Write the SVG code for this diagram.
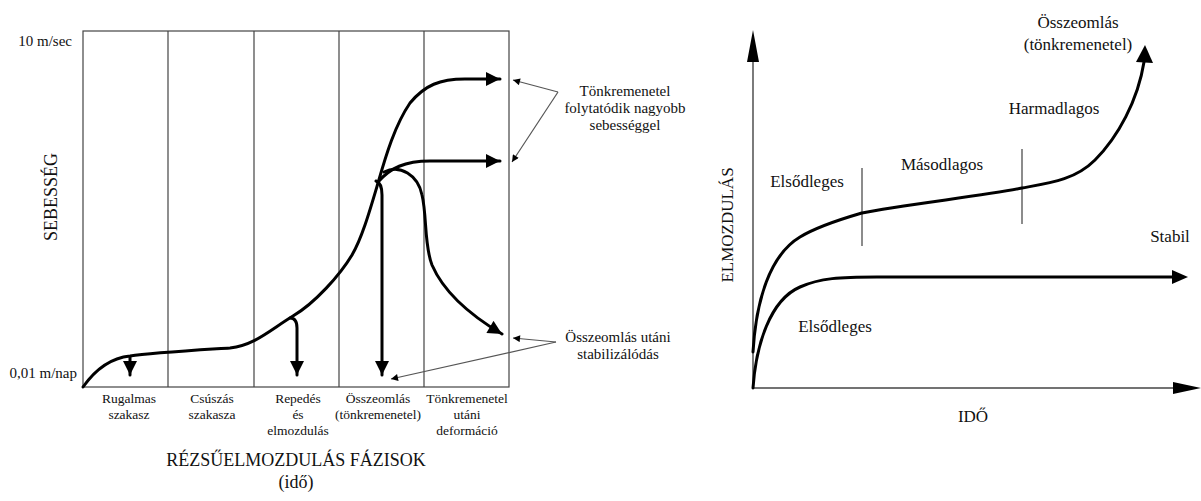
<svg xmlns="http://www.w3.org/2000/svg" width="1201" height="501" viewBox="0 0 1201 501" font-family="'Liberation Serif', 'Times New Roman', serif">
<style>
text{font-family:"Liberation Serif","Times New Roman",serif;fill:#111}
.s13{font-size:13.5px}
.s15{font-size:15px}
.s17{font-size:17px}
.s18{font-size:18px}
.grid{stroke:#444;stroke-width:1.2;fill:none}
.curve{stroke:#000;stroke-width:3;fill:none;stroke-linecap:round}
.thin{stroke:#555;stroke-width:1.2;fill:none}
.axis{stroke:#444;stroke-width:1.4;fill:none}
.tick{stroke:#666;stroke-width:1.5;fill:none}
.head{fill:#000;stroke:none}
</style>
<defs>
<marker id="sm" viewBox="0 0 10 10" refX="10" refY="5" markerWidth="9" markerHeight="7" markerUnits="userSpaceOnUse" orient="auto">
<path d="M0,0 L10,5 L0,10 z" fill="#000"/>
</marker>
<marker id="big" viewBox="0 0 10 10" refX="10" refY="5" markerWidth="16" markerHeight="14" markerUnits="userSpaceOnUse" orient="auto">
<path d="M0,0 L10,5 L0,10 z" fill="#000"/>
</marker>
</defs>

<g id="left-frame">
<rect class="grid" x="83" y="31" width="426" height="356"/>
<line class="grid" x1="168" y1="31" x2="168" y2="387"/>
<line class="grid" x1="254" y1="31" x2="254" y2="387"/>
<line class="grid" x1="339" y1="31" x2="339" y2="387"/>
<line class="grid" x1="424" y1="31" x2="424" y2="387"/>
</g>

<g id="left-axis-labels" font-family="'Liberation Serif', serif">
<text class="s15" x="72" y="46" text-anchor="end">10 m/sec</text>
<text class="s15" x="77" y="378" text-anchor="end">0,01 m/nap</text>
<text class="s18" transform="translate(57,197) rotate(-90)" text-anchor="middle">SEBESSÉG</text>
<text class="s18" x="296" y="466" text-anchor="middle">RÉZSŰELMOZDULÁS FÁZISOK</text>
<text class="s18" x="296" y="488" text-anchor="middle">(idő)</text>
</g>

<g id="phase-labels" font-family="'Liberation Serif', serif">
<text class="s13" x="129" y="403" text-anchor="middle">Rugalmas</text>
<text class="s13" x="129" y="419" text-anchor="middle">szakasz</text>
<text class="s13" x="212" y="403" text-anchor="middle">Csúszás</text>
<text class="s13" x="212" y="419" text-anchor="middle">szakasza</text>
<text class="s13" x="298" y="403" text-anchor="middle">Repedés</text>
<text class="s13" x="298" y="419" text-anchor="middle">és</text>
<text class="s13" x="298" y="435" text-anchor="middle">elmozdulás</text>
<text class="s13" x="378" y="403" text-anchor="middle">Összeomlás</text>
<text class="s13" x="378" y="419" text-anchor="middle">(tönkremenetel)</text>
<text class="s13" x="467" y="403" text-anchor="middle">Tönkremenetel</text>
<text class="s13" x="467" y="419" text-anchor="middle">utáni</text>
<text class="s13" x="467" y="435" text-anchor="middle">deformáció</text>
</g>

<g id="left-curves">
<path class="curve" d="M83,387 C95,370 110,358 130,356 C150,353 200,350 230,348 C255,345 270,330 293,316 C315,303 340,275 352,255 C362,238 370,210 378,183 C386,155 395,125 410,103 C425,85 440,79 465,79 L500,79" marker-end="url(#big)"/>
<path class="curve" d="M378,182 C390,168 405,161 430,161 L500,161" marker-end="url(#big)"/>
<path class="curve" d="M384,172 C400,164 418,175 422,195 C427,215 424,245 432,265 C445,295 475,318 502,334" marker-end="url(#big)"/>
<path class="curve" d="M376,181 Q382,183 382,195 L382,375" marker-end="url(#big)"/>
<path class="curve" d="M290,318 Q297,318 297,328 L297,375" marker-end="url(#big)"/>
<path class="curve" d="M130,357 L130,375" marker-end="url(#big)"/>
</g>

<g id="annot-tonkremenetel" font-family="'Liberation Serif', serif">
<path class="thin" d="M558,92 L513,80" marker-end="url(#sm)"/>
<path class="thin" d="M558,92 L512,162" marker-end="url(#sm)"/>
<text class="s15" x="625" y="96" text-anchor="middle">Tönkremenetel</text>
<text class="s15" x="625" y="113" text-anchor="middle">folytatódik nagyobb</text>
<text class="s15" x="625" y="130" text-anchor="middle">sebességgel</text>
</g>

<g id="annot-stabil" font-family="'Liberation Serif', serif">
<path class="thin" d="M556,342 L513,338" marker-end="url(#sm)"/>
<path class="thin" d="M556,342 L391,379" marker-end="url(#sm)"/>
<text class="s15" x="618" y="342" text-anchor="middle">Összeomlás utáni</text>
<text class="s15" x="618" y="359" text-anchor="middle">stabilizálódás</text>
</g>

<g id="right-axes" font-family="'Liberation Serif', serif">
<line class="axis" x1="753" y1="388" x2="753" y2="60"/>
<path class="head" d="M747,62 L759,62 L753,30 z"/>
<line class="axis" x1="753" y1="388" x2="1175" y2="388"/>
<path class="head" d="M1173,382 L1173,394 L1201,388 z"/>
<text class="s17" transform="translate(733,225) rotate(-90)" text-anchor="middle">ELMOZDULÁS</text>
<text class="s17" x="973" y="422" text-anchor="middle">IDŐ</text>
</g>

<g id="right-curves">
<line class="tick" x1="862" y1="168" x2="862" y2="246"/>
<line class="tick" x1="1022" y1="149" x2="1022" y2="224"/>
<path class="curve" d="M753,352 C756,300 770,255 800,237 C820,225 845,218 862,213 C900,205 990,195 1022,188 C1050,183 1075,180 1095,160 C1118,137 1138,100 1144,62" stroke-width="3.5"/>
<path class="head" d="M1136,62 L1153,63 L1145,45 z"/>
<path class="curve" d="M753,388 C756,345 770,300 800,287 C820,278 840,277 877,277 L1174,277" stroke-width="3.5"/>
<path class="head" d="M1172,270 L1172,284 L1188,277 z"/>
</g>

<g id="right-labels" font-family="'Liberation Serif', serif">
<text class="s17" x="1078" y="28" text-anchor="middle">Összeomlás</text>
<text class="s17" x="1078" y="50" text-anchor="middle">(tönkremenetel)</text>
<text class="s17" x="1054" y="114" text-anchor="middle">Harmadlagos</text>
<text class="s17" x="942" y="170" text-anchor="middle">Másodlagos</text>
<text class="s17" x="807" y="187" text-anchor="middle">Elsődleges</text>
<text class="s17" x="1170" y="242" text-anchor="middle">Stabil</text>
<text class="s17" x="835" y="332" text-anchor="middle">Elsődleges</text>
</g>
</svg>
